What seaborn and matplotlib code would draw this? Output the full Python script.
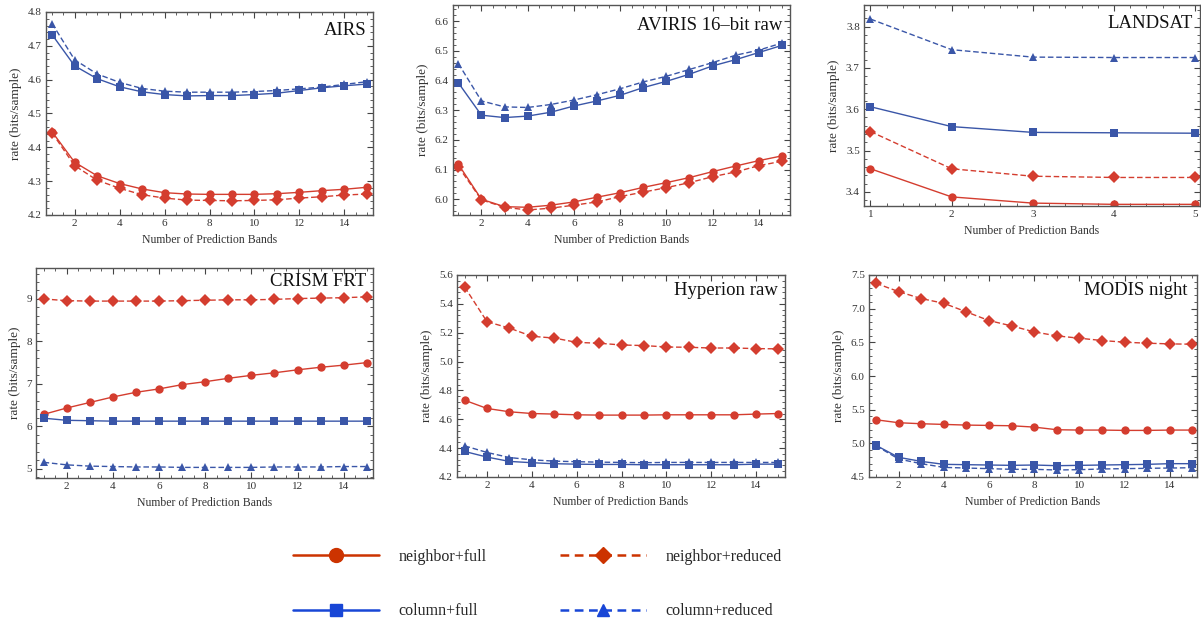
import matplotlib
matplotlib.use("Agg")
import numpy as np
import pandas as pd
import matplotlib.pyplot as plt
from matplotlib.lines import Line2D
from matplotlib.ticker import MultipleLocator, AutoMinorLocator, FormatStrFormatter
import seaborn as sns

# ---- data ----
schemes = ["neighbor+full", "neighbor+reduced", "column+full", "column+reduced"]
bands15 = list(range(1, 16))
bands5 = [1, 2, 3, 4, 5]

# AIRS
airs_nf = [4.446, 4.356, 4.316, 4.293, 4.277, 4.266, 4.262, 4.261, 4.261, 4.261, 4.263, 4.267, 4.272, 4.276, 4.282]
airs_nr = [4.443, 4.346, 4.303, 4.279, 4.260, 4.250, 4.244, 4.243, 4.242, 4.243, 4.245, 4.250, 4.254, 4.259, 4.262]
airs_cf = [4.733, 4.641, 4.603, 4.579, 4.564, 4.556, 4.552, 4.553, 4.553, 4.556, 4.560, 4.568, 4.576, 4.582, 4.587]
airs_cr = [4.766, 4.659, 4.617, 4.592, 4.574, 4.566, 4.563, 4.563, 4.563, 4.565, 4.568, 4.573, 4.578, 4.586, 4.594]

# AVIRIS 16-bit raw
avir_nf = [6.118, 6.000, 5.975, 5.973, 5.980, 5.991, 6.007, 6.022, 6.040, 6.056, 6.073, 6.093, 6.112, 6.130, 6.146]
avir_nr = [6.110, 5.998, 5.973, 5.964, 5.970, 5.980, 5.991, 6.009, 6.024, 6.039, 6.056, 6.076, 6.092, 6.113, 6.128]
avir_cf = [6.392, 6.283, 6.275, 6.280, 6.293, 6.314, 6.331, 6.350, 6.376, 6.397, 6.421, 6.449, 6.470, 6.494, 6.518]
avir_cr = [6.457, 6.331, 6.311, 6.309, 6.319, 6.334, 6.352, 6.372, 6.395, 6.414, 6.437, 6.460, 6.485, 6.502, 6.526]

# LANDSAT
land_nf = [3.456, 3.388, 3.373, 3.370, 3.370]
land_nr = [3.546, 3.456, 3.438, 3.435, 3.435]
land_cf = [3.606, 3.558, 3.544, 3.543, 3.542]
land_cr = [3.818, 3.744, 3.726, 3.725, 3.725]

# CRISM FRT
crism_nf = [6.28, 6.43, 6.56, 6.69, 6.80, 6.88, 6.98, 7.05, 7.13, 7.20, 7.26, 7.33, 7.39, 7.44, 7.50]
crism_nr = [9.00, 8.96, 8.95, 8.95, 8.95, 8.95, 8.96, 8.97, 8.98, 8.98, 8.99, 9.01, 9.02, 9.03, 9.05]
crism_cf = [6.19, 6.14, 6.13, 6.12, 6.12, 6.12, 6.12, 6.12, 6.12, 6.12, 6.12, 6.12, 6.12, 6.12, 6.12]
crism_cr = [5.15, 5.09, 5.06, 5.05, 5.04, 5.04, 5.03, 5.03, 5.03, 5.03, 5.04, 5.04, 5.04, 5.05, 5.05]

# Hyperion raw
hyp_nf = [4.732, 4.675, 4.652, 4.640, 4.636, 4.631, 4.629, 4.629, 4.629, 4.631, 4.631, 4.631, 4.631, 4.636, 4.640]
hyp_nr = [5.517, 5.276, 5.232, 5.175, 5.163, 5.133, 5.127, 5.115, 5.111, 5.101, 5.099, 5.094, 5.094, 5.090, 5.088]
hyp_cf = [4.377, 4.338, 4.308, 4.299, 4.292, 4.289, 4.287, 4.287, 4.285, 4.285, 4.285, 4.285, 4.285, 4.289, 4.289]
hyp_cr = [4.416, 4.370, 4.335, 4.319, 4.310, 4.306, 4.303, 4.301, 4.299, 4.301, 4.301, 4.301, 4.301, 4.301, 4.301]

# MODIS night
mod_nf = [5.350, 5.306, 5.291, 5.281, 5.271, 5.266, 5.261, 5.241, 5.202, 5.197, 5.197, 5.192, 5.192, 5.197, 5.197]
mod_nr = [7.377, 7.253, 7.150, 7.080, 6.952, 6.823, 6.744, 6.655, 6.596, 6.561, 6.527, 6.502, 6.487, 6.477, 6.472]
mod_cf = [4.970, 4.792, 4.732, 4.688, 4.683, 4.678, 4.673, 4.678, 4.668, 4.673, 4.678, 4.683, 4.688, 4.698, 4.698]
mod_cr = [4.965, 4.767, 4.698, 4.643, 4.633, 4.624, 4.614, 4.614, 4.604, 4.609, 4.619, 4.624, 4.629, 4.633, 4.638]


def make_df(bands, nf, nr, cf, cr):
    return pd.DataFrame({
        "bands": bands * 4,
        "rate": nf + nr + cf + cr,
        "scheme": [s for s in schemes for _ in bands],
    })


panels = [
    ("AIRS", make_df(bands15, airs_nf, airs_nr, airs_cf, airs_cr)),
    ("AVIRIS 16\u2013bit raw", make_df(bands15, avir_nf, avir_nr, avir_cf, avir_cr)),
    ("LANDSAT", make_df(bands5, land_nf, land_nr, land_cf, land_cr)),
    ("CRISM FRT", make_df(bands15, crism_nf, crism_nr, crism_cf, crism_cr)),
    ("Hyperion raw", make_df(bands15, hyp_nf, hyp_nr, hyp_cf, hyp_cr)),
    ("MODIS night", make_df(bands15, mod_nf, mod_nr, mod_cf, mod_cr)),
]

# pixel boxes (left, top, right, bottom), axis limits, y tick step, x tick step,
# label format, title offset from top-right corner (px)
layout = [
    ((46, 12, 373, 215), (0.73, 15.27), (4.2, 4.8), 0.1, 2, "%.1f", (7, 10)),
    ((453, 5, 790, 215), (0.77, 15.35), (5.947, 6.654), 0.1, 2, "%.1f", (8, 12)),
    ((864, 5, 1200, 206), (0.92, 5.06), (3.366, 3.852), 0.1, 1, "%.1f", (7, 10)),
    ((36, 268, 373, 478), (0.67, 15.27), (4.78, 9.73), 1, 2, "%d", (7, 5)),
    ((457, 275, 785, 477), (0.66, 15.29), (4.2, 5.6), 0.2, 2, "%.1f", (7, 7)),
    ((869, 275, 1197, 477), (0.69, 15.2), (4.5, 7.5), 0.5, 2, "%.1f", (9, 7)),
]

sns.set_theme(style="ticks")
plt.rcParams["font.family"] = ["Liberation Serif", "DejaVu Serif"]

red, blue = "#d43d2f", "#3a56a8"
palette = {"neighbor+full": red, "neighbor+reduced": red, "column+full": blue, "column+reduced": blue}
markers = {"neighbor+full": "o", "neighbor+reduced": "D", "column+full": "s", "column+reduced": "^"}
dashes = {"neighbor+full": "", "neighbor+reduced": (4, 2), "column+full": "", "column+reduced": (4, 2)}

W, H = 1201, 623
fig = plt.figure(figsize=(W / 100, H / 100), dpi=100)

for (title, df), (box, xl, yl, ystep, xstep, fmt, toff) in zip(panels, layout):
    l, t, r, b = box
    ax = fig.add_axes([l / W, 1 - b / H, (r - l) / W, (b - t) / H])
    sns.lineplot(data=df, x="bands", y="rate", hue="scheme", style="scheme",
                 hue_order=schemes, style_order=schemes, palette=palette,
                 markers=markers, dashes=dashes, linewidth=1.0, markersize=6,
                 markeredgewidth=0, legend=False, ax=ax)
    ax.set_xlim(*xl)
    ax.set_ylim(*yl)
    ax.xaxis.set_major_locator(MultipleLocator(xstep))
    ax.xaxis.set_minor_locator(MultipleLocator(0.2 if xstep == 1 else 0.5))
    ax.yaxis.set_major_locator(MultipleLocator(ystep))
    ax.yaxis.set_minor_locator(AutoMinorLocator(5))
    ax.yaxis.set_major_formatter(FormatStrFormatter(fmt))
    ax.tick_params(which="both", direction="in", top=True, right=True,
                   color="#444444", labelcolor="#333333", labelsize=8, pad=3)
    ax.tick_params(which="major", length=4, width=0.8)
    ax.tick_params(which="minor", length=2, width=0.6)
    for sp in ax.spines.values():
        sp.set_color("#555555")
        sp.set_linewidth(1.0)
    ax.set_xlabel("Number of Prediction Bands", fontsize=8.5, color="#333333")
    ax.set_ylabel("rate (bits/sample)", fontsize=9.5, color="#333333")
    ax.annotate(title, xy=(1, 1), xycoords="axes fraction",
                xytext=(-toff[0], -toff[1]), textcoords="offset pixels",
                ha="right", va="top", fontsize=13.5, color="#111111")

# legend below the panels
leg_red, leg_blue = "#cc3300", "#1846d6"
handles = [
    Line2D([], [], color=leg_red, lw=1.8, ls="-", marker="o", ms=10),
    Line2D([], [], color=leg_blue, lw=1.8, ls="-", marker="s", ms=8),
    Line2D([], [], color=leg_red, lw=1.8, ls=(0, (3.5, 2.2)), marker="D", ms=8.5),
    Line2D([], [], color=leg_blue, lw=1.8, ls=(0, (3.5, 2.2)), marker="^", ms=9),
]
labels = ["neighbor+full", "column+full", "neighbor+reduced", "column+reduced"]
fig.legend(handles, labels, loc="upper left", bbox_to_anchor=(293 / W, 1 - 549 / H),
           ncol=2, frameon=False, fontsize=11.5, handlelength=5.4, handletextpad=1.2,
           columnspacing=4.6, labelspacing=2.4, borderpad=0, borderaxespad=0)

fig.savefig("out.png", dpi=100)
